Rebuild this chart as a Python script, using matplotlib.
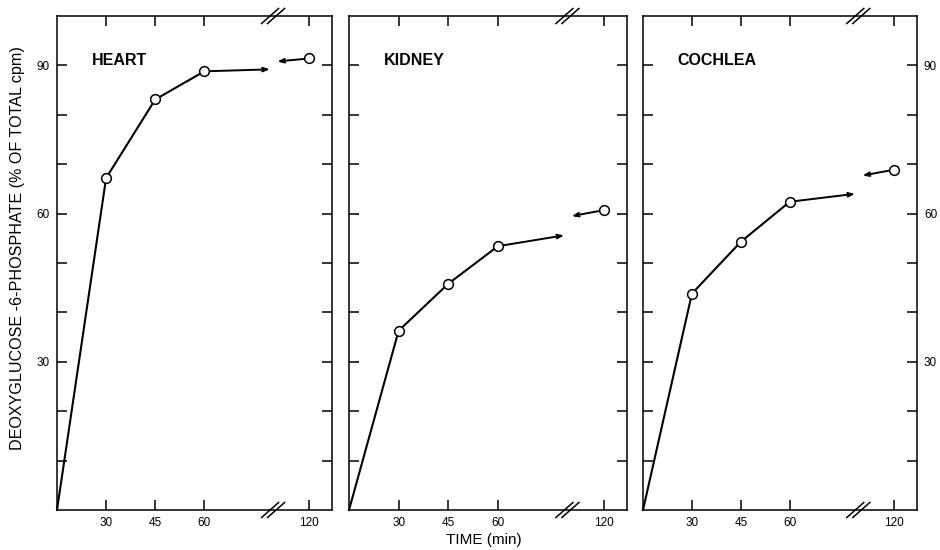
import numpy as np
import matplotlib
matplotlib.use("Agg")
import matplotlib.pyplot as plt

plt.rcParams['font.family'] = ['Liberation Sans', 'DejaVu Sans']

# ---- data ----
tissues = ["HEART", "KIDNEY", "COCHLEA"]
times = [0, 30, 45, 60, 120]
heart = [0, 67.2, 83.1, 88.8, 91.4]
kidney = [0, 36.3, 45.8, 53.4, 60.7]
cochlea = [0, 43.8, 54.3, 62.4, 68.9]
series = [heart, kidney, cochlea]
# ends of the connector arrows drawn at the axis break (left: from 60 min, right: from 120 min)
break_left_y = [89.2, 55.6, 64.0]
break_right_y = [90.8, 59.5, 67.7]
x_ticks = [30, 45, 60, 120]
x_ticklabels = ["30", "45", "60", "120"]
y_ticks = [10, 20, 30, 40, 50, 60, 70, 80, 90]
y_ticklabels = ["", "", "30", "", "", "60", "", "", "90"]

# ---- broken, compressed time axis ----
T_KN = [-1000, 0, 30, 85, 115, 1000]
U_KN = [-485, 15, 30, 85, 87, 972]


def fwd(t):
    return np.interp(np.asarray(t, dtype=float), T_KN, U_KN)


def inv(u):
    return np.interp(np.asarray(u, dtype=float), U_KN, T_KN)


BREAK_T = 81.0
ARROW_L_T = 80.0
ARROW_R_T = 82.3
XLIM = (0, 127)

fig = plt.figure(figsize=(9.4, 5.5), dpi=100)
H = 550.0
W = 940.0
panels_px = [(57, 275), (349, 278), (643, 274)]
top_px, bot_px = 16, 510

for i, (name, vals) in enumerate(zip(tissues, series)):
    l, w = panels_px[i]
    ax = fig.add_axes([l / W, (H - bot_px) / H, w / W, (bot_px - top_px) / H])
    ax.set_xscale('function', functions=(fwd, inv))
    ax.set_xlim(*XLIM)
    ax.set_ylim(0, 100)
    for s in ax.spines.values():
        s.set_linewidth(1.1)

    ax.plot(times[:4], vals[:4], color='black', lw=1.5, marker='o', ms=7,
            markevery=[1, 2, 3], mfc='white', mec='black', mew=1.1, zorder=3,
            clip_on=False)
    ax.plot(times[4:], vals[4:], color='black', lw=0, marker='o', ms=7,
            mfc='white', mec='black', mew=1.1, zorder=3)
    ax.annotate("", xy=(ARROW_L_T, break_left_y[i]), xytext=(times[3], vals[3]),
                arrowprops=dict(arrowstyle='->,head_length=0.35,head_width=0.13',
                                color='black', lw=1.4, shrinkA=4, shrinkB=0))
    ax.annotate("", xy=(ARROW_R_T, break_right_y[i]), xytext=(times[4], vals[4]),
                arrowprops=dict(arrowstyle='->,head_length=0.35,head_width=0.13',
                                color='black', lw=1.4, shrinkA=4, shrinkB=0))

    ax.set_xticks(x_ticks)
    ax.set_xticklabels(x_ticklabels)
    ax.xaxis.set_minor_locator(matplotlib.ticker.NullLocator())
    ax.set_yticks(y_ticks)
    ax.set_yticklabels(y_ticklabels)
    ax.tick_params(axis='both', which='major', direction='in', length=7, width=1.1,
                   top=True, right=True, labelsize=8.5, pad=5)
    ax.tick_params(axis='y', left=True, right=True,
                   labelleft=(i == 0), labelright=(i == 2), pad=5)

    ax.text(0.126, 0.90, name, transform=ax.transAxes, fontsize=11.5,
            fontweight='bold', ha='left', va='baseline')

    # break marks on top and bottom spines
    xb = (fwd(BREAK_T) - fwd(XLIM[0])) / (fwd(XLIM[1]) - fwd(XLIM[0]))
    dx = 8.5 / w
    dy = 7.5 / (bot_px - top_px)
    sep = 6.0 / w
    for yb in (0.0, 1.0):
        for off in (-sep / 2, sep / 2):
            ax.plot([xb + off - dx, xb + off + dx], [yb - dy, yb + dy],
                    transform=ax.transAxes, color='black', lw=1.1, clip_on=False)

fig.text(18 / W, (H - 248) / H, "DEOXYGLUCOSE -6-PHOSPHATE (% OF TOTAL cpm)",
         rotation=90, ha='center', va='center', fontsize=11.6)
fig.text(484 / W, (H - 540) / H, "TIME (min)", ha='center', va='center', fontsize=11)

fig.savefig("out.png", dpi=100)
